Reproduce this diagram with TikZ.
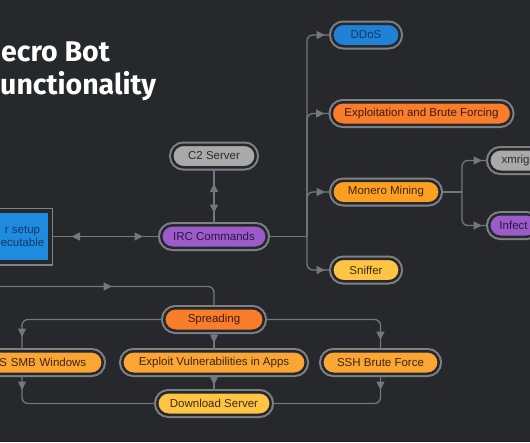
\documentclass[tikz,border=0pt]{standalone}
\usepackage{fontspec}
\setmainfont{Liberation Sans}
\newfontfamily\titlefont{Fira Sans}
\usepackage{xcolor}
\usetikzlibrary{arrows.meta, positioning, decorations.markings}

\definecolor{bgc}{HTML}{26282B}
\definecolor{ringc}{HTML}{7E8287}
\definecolor{linec}{HTML}{74787C}
\definecolor{bluec}{HTML}{1F82D6}
\definecolor{bluet}{HTML}{123A63}
\definecolor{boxc}{HTML}{1E8AE0}
\definecolor{orangec}{HTML}{FA7D2C}
\definecolor{oranget}{HTML}{3B1D0A}
\definecolor{minec}{HTML}{FDA022}
\definecolor{amberc}{HTML}{FBA634}
\definecolor{ambert}{HTML}{3D250A}
\definecolor{yellowc}{HTML}{FEC545}
\definecolor{yellowt}{HTML}{3D2C0A}
\definecolor{grayc}{HTML}{A9A9AA}
\definecolor{grayt}{HTML}{2B2C2E}
\definecolor{purplec}{HTML}{9B5BC8}
\definecolor{purplet}{HTML}{2F1645}

\tikzset{
  >={Triangle[length=8.5pt,width=8pt]},
  tipat/.style={postaction={decorate, color=linec,
      decoration={markings, mark=at position #1 with {\arrow{>}}}}},
  tipback/.style={postaction={decorate, color=linec,
      decoration={markings, mark=at position #1 with {\arrowreversed{>}}}}}
}

\begin{document}
\begin{tikzpicture}[x=1pt,y=-1pt]

\tikzstyle{pill}=[rectangle,rounded corners=11.25pt,minimum height=22.5pt,inner xsep=10pt,inner ysep=2pt,draw=bgc,line width=2.5pt,preaction={draw=ringc,line width=6.5pt},font=\fontsize{11.5}{13}\selectfont]
\tikzstyle{box}=[rectangle,draw=bgc,line width=4pt,preaction={draw=ringc,line width=7pt},minimum width=54pt,minimum height=51pt,inner xsep=2pt,align=center,font=\fontsize{11.5}{12.5}\selectfont]
\tikzstyle{titletxt}=[text=white,inner sep=0pt,anchor=base west,font=\titlefont\bfseries\fontsize{28.5}{32}\selectfont]
\tikzstyle{line}=[draw=linec,line width=1.3pt,rounded corners=6pt]

\clip (0,0) rectangle (530,442);
\fill[bgc] (0,0) rectangle (530,442);

% title
\node (title1) [titletxt] at (1,61) {ecro Bot};
\node (title2) [titletxt] at (0,94) {unctionality};

% command side
\node (loader) [box,fill=boxc,text=bluet] at (22.5,236.5) {r setup\\ecutable};
\node (c2) [pill,fill=grayc,text=grayt,minimum width=83.5pt] at (214,156) {C2 Server};
\node (irc) [pill,fill=purplec,text=purplet,minimum width=105.5pt] at (214,236.5) {IRC Commands};

\node (ddos) [pill,fill=bluec,text=bluet,minimum width=67.5pt] at (366,35) {DDoS};
\node (brute) [pill,fill=orangec,text=oranget,minimum width=179.5pt] at (421.5,113.5) {Exploitation and Brute Forcing};
\node (monero) [pill,fill=minec,text=ambert,minimum width=107.5pt] at (386,192) {Monero Mining};
\node (sniffer) [pill,fill=yellowc,text=yellowt,minimum width=67.5pt] at (366,270) {Sniffer};

\node (xmrig) [pill,fill=grayc,text=grayt,minimum width=52.6pt,anchor=west] at (488,160.5) {xmrig};
\node (infect) [pill,fill=purplec,text=purplet,minimum width=48.6pt,anchor=west] at (488,225.5) {Infect};

% spreading side
\node (spread) [pill,fill=orangec,text=oranget,minimum width=99.5pt] at (214,319.5) {Spreading};
\node (smb) [pill,fill=amberc,text=ambert,text width=128.5pt,align=right,inner xsep=16.5pt] at (22,362.5) {S SMB Windows};
\node (apps) [pill,fill=amberc,text=ambert,minimum width=183.5pt] at (214,362.5) {Exploit Vulnerabilities in Apps};
\node (ssh) [pill,fill=amberc,text=ambert,minimum width=116.5pt] at (380.5,362.5) {SSH Brute Force};
\node (dl) [pill,fill=yellowc,text=yellowt,minimum width=113.5pt] at (214,403.5) {Download Server};

\coordinate (trunk) at (307,236.5);
\coordinate (fork) at (462,192);
\coordinate (entry) at (-5,286.5);

\draw[line,tipback=20pt,tipat=-17pt] (loader) -- (irc);
\draw[line,tipback=15pt,tipat=-11pt] (c2) -- (irc);

\draw[line] (irc.east) -- (trunk);
\draw[line,tipat=-6pt] (trunk) |- (ddos.west);
\draw[line,tipat=-6pt] (trunk) |- (brute.west);
\draw[line,tipat=-6pt] (trunk) |- (monero.west);
\draw[line,tipat=-6pt] (trunk) |- (sniffer.west);

\draw[line] (monero.east) -- (fork);
\draw[line,tipat=-6pt] (fork) |- (xmrig.west);
\draw[line,tipat=-6pt] (fork) |- (infect.west);

\draw[line,tipat=117pt] (entry) -| (spread.north);
\draw[line,tipat=-13pt] (spread.west) -| (smb.north);
\draw[line,tipat=-7pt] (spread) -- (apps);
\draw[line,tipat=-10pt] (spread.east) -| (ssh.north);

\draw[line,tipat=15pt] (smb.south) |- (dl.west);
\draw[line,tipat=10pt] (apps) -- (dl);
\draw[line,tipat=15pt] (ssh.south) |- (dl.east);

\end{tikzpicture}
\end{document}
